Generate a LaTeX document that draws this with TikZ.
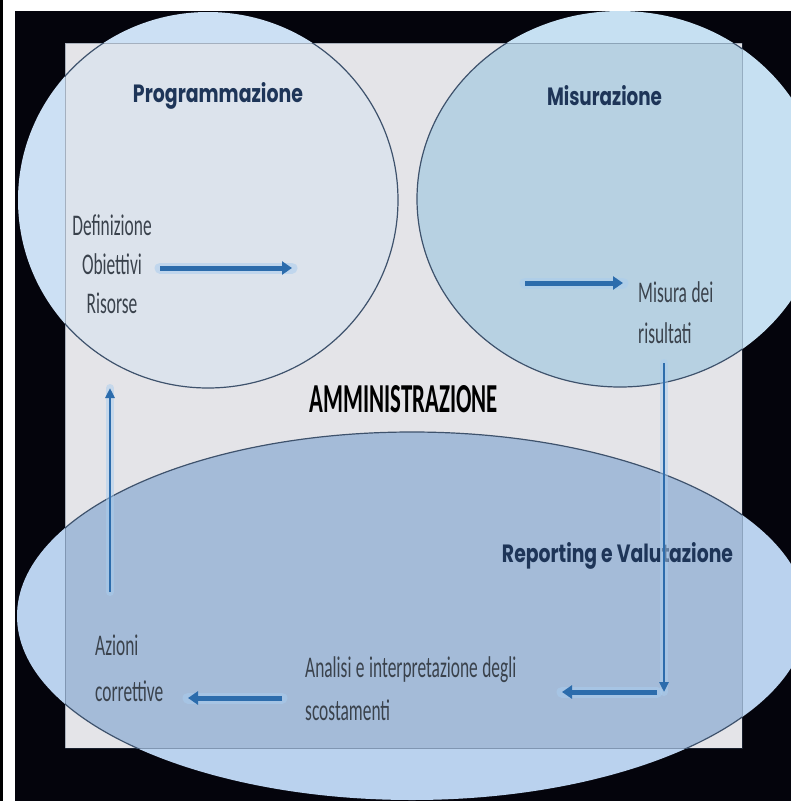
\documentclass[tikz,border=0pt]{standalone}
\usepackage{fontspec}
\setmainfont{Carlito}
\newfontfamily\condfont{Carlito}[FakeStretch=0.58]
\newfontfamily\titlefont{Poppins}
\usetikzlibrary{arrows.meta}
\definecolor{bgblack}{HTML}{04040C}
\definecolor{panelgrey}{HTML}{E4E4E8}
\definecolor{progout}{HTML}{CCE0F4}
\definecolor{progin}{HTML}{DCE3EC}
\definecolor{misout}{HTML}{C6E0F2}
\definecolor{misin}{HTML}{B7D1E2}
\definecolor{botout}{HTML}{BAD2EE}
\definecolor{botin}{HTML}{A4BBD8}
\definecolor{rimline}{HTML}{3E526C}
\definecolor{titleblue}{HTML}{1E3558}
\definecolor{smallgrey}{HTML}{3A424C}
\definecolor{arrowblue}{HTML}{2C6CAC}
\definecolor{halo}{HTML}{A9CDEE}
\newcommand\smallfont[1]{\condfont\fontsize{30}{#1}\selectfont}
\newcommand\tightsp{\spaceskip=4.5pt plus 1pt minus 1pt\xspaceskip=4.5pt\relax}
\tikzset{
  titletext/.style={inner sep=0pt, text=titleblue},
  smalltext/.style={inner sep=0pt, text=smallgrey},
  thickarrow/.style={draw=arrowblue, line width=5pt, -{Triangle[length=10pt,width=13pt]}},
  thinarrow/.style={draw=arrowblue, line width=2.6pt, -{Triangle[length=10pt,width=9pt]}},
  halothick/.style={draw=halo, line width=11pt, opacity=0.55, line cap=round},
  halothin/.style={draw=halo, line width=8pt, opacity=0.5, line cap=round},
}
\newcommand\progell{(208,200) ellipse [x radius=190, y radius=188]}
\newcommand\misell{(620,199) ellipse [x radius=203, y radius=188]}
\newcommand\botell{(412,616) ellipse [x radius=395, y radius=184]}
\begin{document}
\begin{tikzpicture}[x=1pt,y=-1pt]
\useasboundingbox (0,0) rectangle (791,801);
\fill[white] (0,0) rectangle (791,801);
\fill[black] (0,0) rectangle (2.7,801);
\fill[bgblack] (15,10.5) rectangle (791,801);
\fill[panelgrey] (65,43) rectangle (742,748);
% ellipses outside the panel
\begin{scope}
  \clip (15,10.5) rectangle (791,801);
  \fill[progout] \progell;
  \fill[misout] \misell;
  \fill[botout] \botell;
\end{scope}
% ellipses inside the panel
\begin{scope}
  \clip (65,43) rectangle (742,748);
  \fill[progin] \progell;
  \fill[misin] \misell;
  \fill[botin] \botell;
  \draw[rimline, line width=1.2pt] \progell;
  \draw[rimline, line width=1.2pt] \misell;
  \draw[rimline, line width=1.2pt] \botell;
\end{scope}
\draw[rimline, line width=0.8pt, opacity=0.35] (65,43) rectangle (742,748);

% titles
\node[titletext, anchor=base] (prog) at (218,102) {\resizebox{170pt}{20pt}{\titlefont\bfseries Programmazione}};
\node[titletext, anchor=base] (mis) at (604.5,105) {\resizebox{115pt}{20pt}{\titlefont\bfseries Misurazione}};
\node[titletext, anchor=base] (rep) at (617.5,562) {\resizebox{231pt}{20pt}{\titlefont\bfseries Reporting e Valutazione}};
\node[inner sep=0pt, text=black, anchor=base] (amm) at (404,412) {\resizebox{188pt}{27pt}{\bfseries AMMINISTRAZIONE}};

% small texts
\node[smalltext, text width=110pt, align=center, anchor=base, font=\smallfont{39}] (def) at (112,235) {Definizione\\Obiettivi\\Risorse};
\node[smalltext, text width=110pt, align=left, anchor=base west, font=\smallfont{41}] (mdr) at (638,302) {\tightsp Misura dei\\risultati};
\node[smalltext, text width=260pt, align=left, anchor=base west, font=\smallfont{43}] (ana) at (305,677) {\tightsp Analisi e interpretazione degli\\scostamenti};
\node[smalltext, text width=110pt, align=left, anchor=base west, font=\smallfont{46}] (azi) at (95,655) {Azioni\\correttive};

% arrow end points
\coordinate (a1s) at (160,268);  \coordinate (a1e) at (292,268);
\coordinate (a2s) at (525,283);  \coordinate (a2e) at (623,283);
\coordinate (a3s) at (664,363);  \coordinate (a3e) at (664,692);
\coordinate (a4s) at (657,692);  \coordinate (a4e) at (562,692);
\coordinate (a5s) at (282,698);  \coordinate (a5e) at (188,698);
\coordinate (a6s) at (110,592);  \coordinate (a6e) at (110,388);

% halos
\draw[halothick] (a1s) -- (a1e);
\draw[halothick] (a2s) -- (a2e);
\draw[halothin] (a3s) -- (a3e);
\draw[halothick] (a4s) -- (a4e);
\draw[halothick] (a5s) -- (a5e);
\draw[halothin] (a6s) -- (a6e);
% arrows
\draw[thickarrow] (a1s) -- (a1e);
\draw[thickarrow] (a2s) -- (a2e);
\draw[thinarrow] (a3s) -- (a3e);
\draw[thickarrow] (a4s) -- (a4e);
\draw[thickarrow] (a5s) -- (a5e);
\draw[thinarrow] (a6s) -- (a6e);
\end{tikzpicture}
\end{document}
